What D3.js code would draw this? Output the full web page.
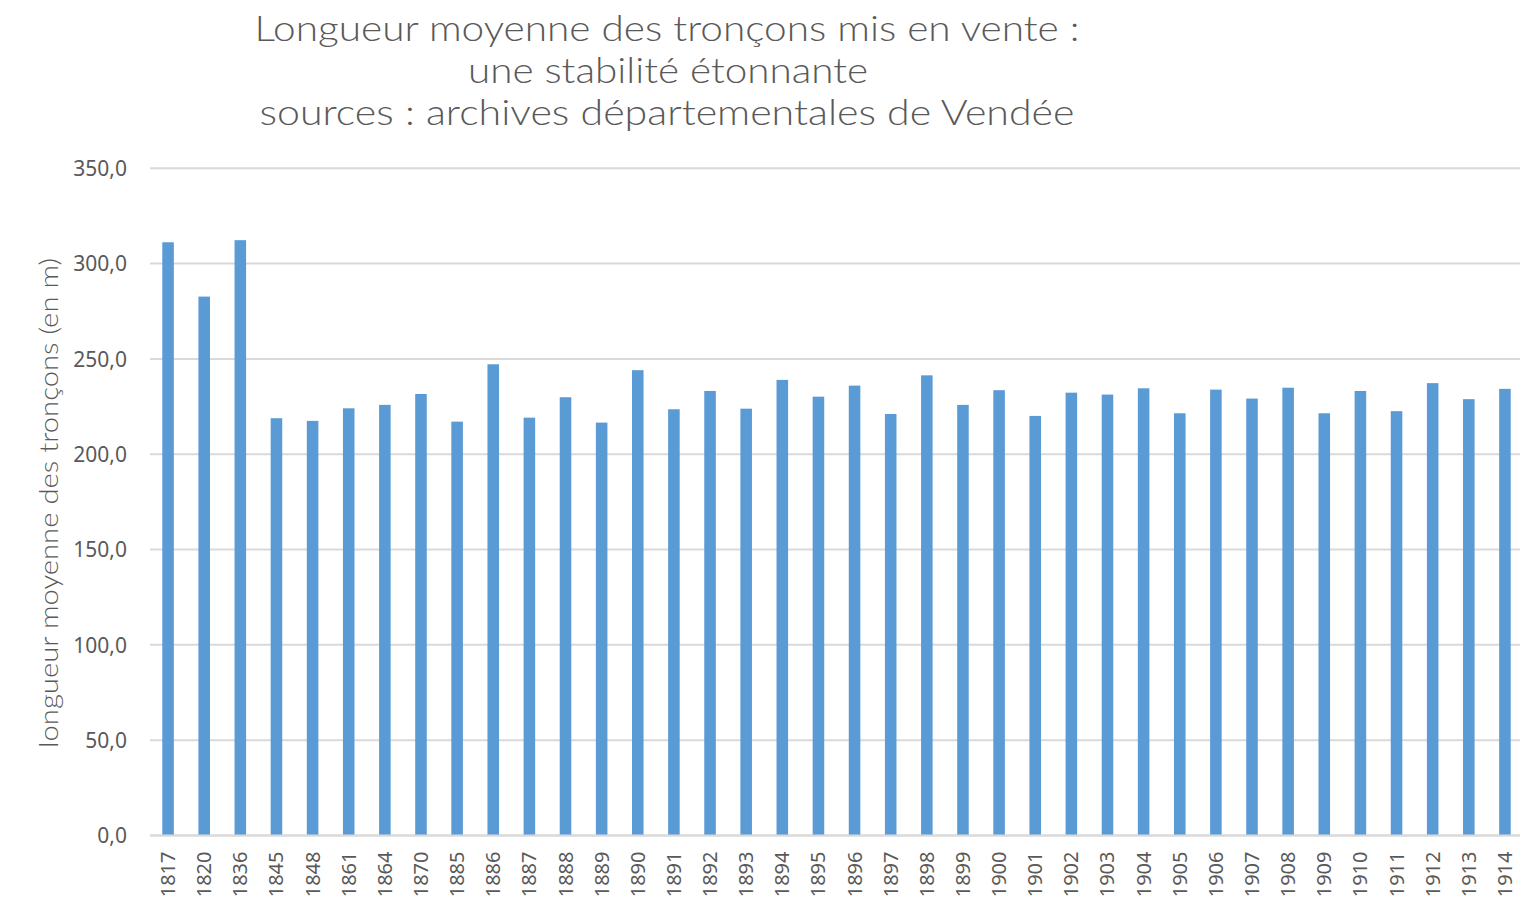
<!DOCTYPE html>
<html>
<head>
<meta charset="utf-8">
<script src="https://cdnjs.cloudflare.com/ajax/libs/d3/7.8.5/d3.min.js"></script>
<style>
    body { margin: 0; background: #fff; }
    .tickText { font-family: "Noto Sans", "Open Sans", sans-serif; fill: #595959; }
    .titleText { font-family: "Lato", "Open Sans", sans-serif; font-weight: 300; fill: #595959; }
</style>
</head>
<body>
<div id="chart"></div>
<script>
// data
var years = ["1817", "1820", "1836", "1845", "1848", "1861", "1864", "1870", "1885", "1886",
    "1887", "1888", "1889", "1890", "1891", "1892", "1893", "1894", "1895", "1896",
    "1897", "1898", "1899", "1900", "1901", "1902", "1903", "1904", "1905", "1906",
    "1907", "1908", "1909", "1910", "1911", "1912", "1913", "1914"];
var lengths = [311.2, 282.7, 312.3, 218.9, 217.5, 224.1, 225.9, 231.6, 217.1, 247.2,
    219.2, 229.9, 216.6, 244.1, 223.6, 233.2, 223.9, 239.0, 230.2, 236.0,
    221.1, 241.4, 225.9, 233.6, 220.1, 232.3, 231.3, 234.6, 221.5, 233.9,
    229.2, 234.9, 221.5, 233.2, 222.6, 237.3, 228.9, 234.3];
var yTicks = [0, 50, 100, 150, 200, 250, 300, 350];
var titleLines = ["Longueur moyenne des tronçons mis en vente :",
    "une stabilité étonnante",
    "sources : archives départementales de Vendée"];
var yTitle = "longueur moyenne des tronçons (en m)";

var svgW = 1520;
var svgH = 909;

var plotL = 150;
var plotR = 1523;
var plotT = 168.3;
var plotB = 835.5;

var svg = d3.select("#chart")
    .append("svg")
    .attr("width", svgW)
    .attr("height", svgH);

var xScale = d3.scaleBand()
    .domain(years)
    .range([plotL, plotR])
    .paddingInner(0.68)
    .paddingOuter(0.34);

var yScale = d3.scaleLinear()
    .domain([0, 350])
    .range([plotB, plotT]);

// gridlines
svg.append("g")
    .selectAll("line")
    .data(yTicks)
    .enter()
    .append("line")
    .attr("x1", plotL)
    .attr("x2", svgW)
    .attr("y1", function(d) { return yScale(d) })
    .attr("y2", function(d) { return yScale(d) })
    .attr("stroke", "#d9d9d9")
    .attr("stroke-width", 2);

// y tick labels
var lAxis = d3.axisLeft(yScale)
    .tickValues(yTicks)
    .tickSize(0)
    .tickPadding(0)
    .tickFormat(function(d) { return d3.format(".1f")(d).replace(".", ",") });

var yAxis = svg.append("g")
    .attr("transform", "translate(127, 0)")
    .call(lAxis);
yAxis.select(".domain").remove();
yAxis.selectAll("text")
    .attr("class", "tickText")
    .attr("font-size", 21)
    .attr("dy", "0.35em");

// bars
svg.append("g")
    .selectAll("rect")
    .data(lengths)
    .enter()
    .append("rect")
    .attr("x", function(d, i) { return xScale(years[i]) })
    .attr("y", function(d) { return yScale(d) })
    .attr("width", xScale.bandwidth())
    .attr("height", function(d) { return yScale(0) - yScale(d) })
    .attr("fill", "#5b9bd5");

// x axis line over the bars' feet
svg.append("line")
    .attr("x1", plotL)
    .attr("x2", svgW)
    .attr("y1", yScale(0))
    .attr("y2", yScale(0))
    .attr("stroke", "#d9d9d9")
    .attr("stroke-width", 2);

// x labels, rotated
var bAxis = d3.axisBottom(xScale).tickSize(0);
var xAxis = svg.append("g")
    .attr("transform", `translate(0, ${plotB})`)
    .call(bAxis);
xAxis.select(".domain").remove();
xAxis.selectAll("text")
    .attr("class", "tickText")
    .attr("font-size", 20)
    .attr("text-anchor", "end")
    .attr("transform", "rotate(-90)")
    .attr("x", -16)
    .attr("y", 0)
    .attr("dy", "0.35em");

// y axis title
svg.append("text")
    .attr("class", "titleText")
    .attr("transform", "translate(58, 503) rotate(-90)")
    .attr("text-anchor", "middle")
    .attr("font-size", 25)
    .attr("textLength", 490)
    .attr("lengthAdjust", "spacingAndGlyphs")
    .text(yTitle);

// title
var titleX = [667, 668, 667];
var titleW = [825, 400, 815];
svg.append("g")
    .selectAll("text")
    .data(titleLines)
    .enter()
    .append("text")
    .attr("class", "titleText")
    .attr("x", function(d, i) { return titleX[i] })
    .attr("y", function(d, i) { return 41 + i * 42 })
    .attr("text-anchor", "middle")
    .attr("font-size", 36)
    .attr("textLength", function(d, i) { return titleW[i] })
    .attr("lengthAdjust", "spacingAndGlyphs")
    .text(function(d) { return d });
</script>
</body>
</html>
